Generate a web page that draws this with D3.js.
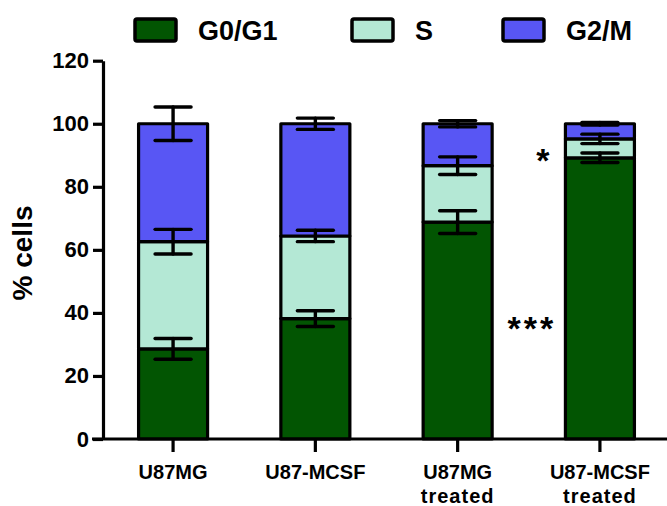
<!DOCTYPE html>
<html>
<head>
<meta charset="utf-8">
<script src="https://cdn.jsdelivr.net/npm/d3@7"></script>
<style>
  html, body { margin: 0; padding: 0; background: #fff; }
  svg { display: block; font-family: "Liberation Sans", Arial, sans-serif; font-weight: bold; }
</style>
</head>
<body>
<svg id="chart" width="667" height="506"></svg>
<script>
// Cell-cycle distribution per condition (mean % of cells, with SD)
const categories = [["U87MG"], ["U87-MCSF"], ["U87MG", "treated"], ["U87-MCSF", "treated"]];
const phases = ["G0/G1", "S", "G2/M"];
const g0g1 = [28.6, 38.2, 68.8, 89.2];
const g0g1Sd = [3.3, 2.5, 3.6, 1.5];
const sPhase = [34.0, 26.2, 17.9, 6.0];
const sPhaseSd = [3.9, 1.8, 2.8, 1.5];
const g2m = [37.4, 35.6, 13.3, 4.8];
const g2mSd = [5.3, 1.8, 1.0, 0.4];
const yTicks = [0, 20, 40, 60, 80, 100, 120];
const colors = ["#025502", "#b4e8d5", "#5856f4"];
// significance marks: category index, value level where the mark sits, text
const marks = [
  { cat: 3, level: 37.5, text: "***", dx: 3, spacing: 3 },
  { cat: 3, level: 90.8, text: "*", dx: 14, spacing: 0 }
];

const svg = d3.select("#chart");
const sds = [g0g1Sd, sPhaseSd, g2mSd];
const keys = categories.map((c, i) => i);

const x = d3.scaleBand().domain(keys).range([103, 670]).paddingInner(0.515).paddingOuter(0.25);
const y = d3.scaleLinear().domain([0, 120]).range([439, 60.7]);

// stacked segments
const rows = keys.map(i => ({ i, "G0/G1": g0g1[i], "S": sPhase[i], "G2/M": g2m[i] }));
const stacked = d3.stack().keys(phases)(rows);

stacked.forEach((layer, li) => {
  svg.append("g").selectAll("rect").data(layer).join("rect")
    .attr("x", d => x(d.data.i))
    .attr("width", x.bandwidth())
    .attr("y", d => y(d[1]))
    .attr("height", d => y(d[0]) - y(d[1]))
    .attr("fill", colors[li])
    .attr("stroke", "#000")
    .attr("stroke-width", 3.2)
    .attr("stroke-linejoin", "round");
});

// error bars at the top of each segment
const capW = 36;
const eg = svg.append("g").attr("stroke", "#000").attr("stroke-width", 3.4).attr("stroke-linecap", "round");
stacked.forEach((layer, li) => {
  layer.forEach(d => {
    const i = d.data.i;
    const cx = x(i) + x.bandwidth() / 2;
    const top = d[1], sd = sds[li][i];
    eg.append("line").attr("x1", cx).attr("x2", cx).attr("y1", y(top + sd)).attr("y2", y(top - sd));
    eg.append("line").attr("x1", cx - capW / 2).attr("x2", cx + capW / 2).attr("y1", y(top + sd)).attr("y2", y(top + sd));
    eg.append("line").attr("x1", cx - capW / 2).attr("x2", cx + capW / 2).attr("y1", y(top - sd)).attr("y2", y(top - sd));
  });
});

// y axis
const yAxis = svg.append("g").attr("transform", "translate(103,0)")
  .call(d3.axisLeft(y).tickValues(yTicks).tickSize(10).tickSizeOuter(0).tickPadding(4));
yAxis.selectAll("path, line").attr("stroke", "#000").attr("stroke-width", 3.2);
yAxis.selectAll("text").attr("font-size", 22).attr("font-weight", "bold").attr("fill", "#000")
  .attr("font-family", "'Liberation Sans', Arial, sans-serif");

// x axis
const xAxis = svg.append("g").attr("transform", "translate(0,439)")
  .call(d3.axisBottom(x).tickSize(13).tickSizeOuter(0).tickFormat(""));
xAxis.select(".domain").attr("d", "M92,0H667");
xAxis.selectAll("path, line").attr("stroke", "#000").attr("stroke-width", 3.2);

const labels = svg.append("g").attr("font-size", 20).attr("text-anchor", "middle").attr("fill", "#000");
keys.forEach(i => {
  const t = labels.append("text").attr("x", x(i) + x.bandwidth() / 2).attr("y", 479);
  categories[i].forEach((line, k) => {
    t.append("tspan").attr("x", x(i) + x.bandwidth() / 2).attr("dy", k === 0 ? 0 : 24)
      .attr("letter-spacing", k === 0 ? 0 : 1).text(line);
  });
});

// y axis title
svg.append("text").attr("transform", "translate(32,253) rotate(-90)")
  .attr("text-anchor", "middle").attr("font-size", 28).attr("fill", "#000").text("% cells");

// legend
const legendX = [135, 352, 503];
const leg = svg.append("g");
phases.forEach((p, i) => {
  leg.append("rect").attr("x", legendX[i]).attr("y", 19).attr("width", 41).attr("height", 22)
    .attr("rx", 2).attr("fill", colors[i]).attr("stroke", "#000").attr("stroke-width", 3.5);
  leg.append("text").attr("x", legendX[i] + 63).attr("y", 40).attr("font-size", 27)
    .attr("fill", "#000").text(p);
});

// significance markers
marks.forEach(m => {
  const cx = (x(m.cat - 1) + x.bandwidth() + x(m.cat)) / 2 + m.dx;
  svg.append("text").attr("x", cx).attr("y", y(m.level) + 19)
    .attr("text-anchor", "middle").attr("font-size", 34).attr("letter-spacing", m.spacing)
    .attr("fill", "#000").text(m.text);
});
</script>
</body>
</html>
